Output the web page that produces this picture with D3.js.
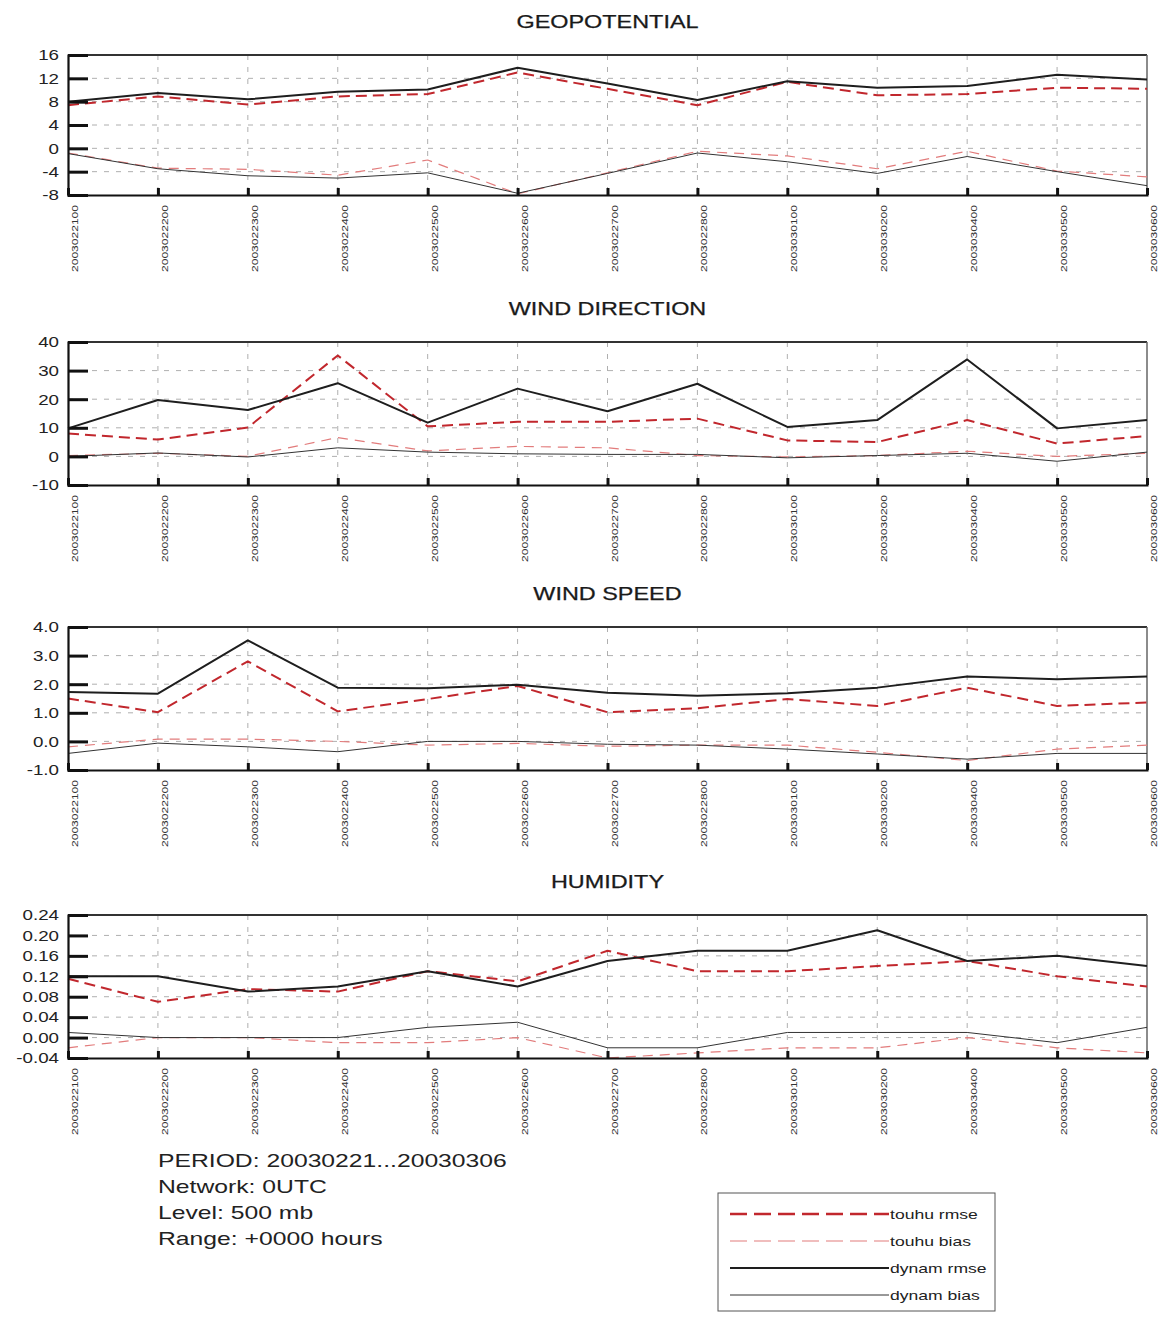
<!DOCTYPE html>
<html>
<head>
<meta charset="utf-8">
<script src="https://cdn.jsdelivr.net/npm/d3@7"></script>
<style>
  html, body { margin: 0; padding: 0; background: #fff; }
  svg { display: block; }
  text { font-family: "Liberation Sans", Arial, Helvetica, sans-serif; }
</style>
</head>
<body>
<svg id="chart" width="1160" height="1320"></svg>
<script>
// ---------------- data ----------------
const dates = ["2003022100","2003022200","2003022300","2003022400","2003022500","2003022600",
               "2003022700","2003022800","2003030100","2003030200","2003030400","2003030500","2003030600"];

const seriesNames = ["touhu rmse", "touhu bias", "dynam rmse", "dynam bias"];

const panelTitles = ["GEOPOTENTIAL", "WIND DIRECTION", "WIND SPEED", "HUMIDITY"];

// GEOPOTENTIAL
const geoTouhuRmse = [7.4, 8.9, 7.5, 8.9, 9.3, 13.0, 10.2, 7.4, 11.4, 9.1, 9.3, 10.4, 10.2];
const geoTouhuBias = [-0.8, -3.4, -3.6, -4.6, -2.0, -7.8, -4.2, -0.5, -1.3, -3.5, -0.5, -3.9, -4.9];
const geoDynamRmse = [8.0, 9.5, 8.4, 9.7, 10.1, 13.8, 11.1, 8.3, 11.5, 10.4, 10.7, 12.6, 11.8];
const geoDynamBias = [-0.9, -3.5, -4.7, -5.1, -4.2, -7.7, -4.3, -0.8, -2.3, -4.3, -1.4, -4.0, -6.4];
const geoTicks = [-8, -4, 0, 4, 8, 12, 16];

// WIND DIRECTION
const wdirTouhuRmse = [8.0, 5.9, 10.1, 35.3, 10.5, 12.1, 12.1, 13.2, 5.6, 5.0, 12.7, 4.5, 7.1];
const wdirTouhuBias = [0.3, 1.1, 0.0, 6.6, 1.9, 3.5, 3.0, 0.3, -0.2, 0.3, 1.8, 0.0, 1.1];
const wdirDynamRmse = [9.8, 19.7, 16.2, 25.6, 11.8, 23.7, 15.8, 25.4, 10.3, 12.7, 33.9, 9.8, 12.7];
const wdirDynamBias = [0.0, 1.2, -0.2, 3.0, 1.5, 0.9, 0.7, 0.7, -0.5, 0.3, 1.1, -1.7, 1.5];
const wdirTicks = [-10, 0, 10, 20, 30, 40];

// WIND SPEED
const wspdTouhuRmse = [1.50, 1.02, 2.80, 1.05, 1.48, 1.94, 1.02, 1.16, 1.48, 1.24, 1.88, 1.24, 1.36];
const wspdTouhuBias = [-0.19, 0.08, 0.08, 0.0, -0.13, -0.07, -0.17, -0.13, -0.13, -0.38, -0.67, -0.27, -0.13];
const wspdDynamRmse = [1.73, 1.67, 3.53, 1.88, 1.86, 1.98, 1.70, 1.60, 1.68, 1.88, 2.27, 2.17, 2.27];
const wspdDynamBias = [-0.42, -0.06, -0.19, -0.36, 0.0, 0.0, -0.10, -0.13, -0.27, -0.44, -0.62, -0.42, -0.42];
const wspdTicks = [-1, 0, 1, 2, 3, 4];

// HUMIDITY
const humTouhuRmse = [0.115, 0.07, 0.095, 0.09, 0.13, 0.11, 0.17, 0.13, 0.13, 0.14, 0.15, 0.12, 0.10];
const humTouhuBias = [-0.02, 0.0, 0.0, -0.01, -0.01, 0.0, -0.04, -0.03, -0.02, -0.02, 0.0, -0.02, -0.03];
const humDynamRmse = [0.12, 0.12, 0.09, 0.10, 0.13, 0.10, 0.15, 0.17, 0.17, 0.21, 0.15, 0.16, 0.14];
const humDynamBias = [0.01, 0.0, 0.0, 0.0, 0.02, 0.03, -0.02, -0.02, 0.01, 0.01, 0.01, -0.01, 0.02];
const humTicks = [-0.04, 0.0, 0.04, 0.08, 0.12, 0.16, 0.20, 0.24];

const infoLines = ["PERIOD: 20030221...20030306", "Network: 0UTC", "Level: 500 mb", "Range: +0000 hours"];

// ---------------- layout / style ----------------
const hyph = f => v => f(v).replace("\u2212", "-");

const panels = [
  { title: panelTitles[0], ticks: geoTicks,  fmt: hyph(d3.format("d")),   series: [geoTouhuRmse, geoTouhuBias, geoDynamRmse, geoDynamBias],     top: 55,  bottom: 195 },
  { title: panelTitles[1], ticks: wdirTicks, fmt: hyph(d3.format("d")),   series: [wdirTouhuRmse, wdirTouhuBias, wdirDynamRmse, wdirDynamBias], top: 342, bottom: 485 },
  { title: panelTitles[2], ticks: wspdTicks, fmt: hyph(d3.format(".1f")), series: [wspdTouhuRmse, wspdTouhuBias, wspdDynamRmse, wspdDynamBias], top: 627, bottom: 770 },
  { title: panelTitles[3], ticks: humTicks,  fmt: hyph(d3.format(".2f")), series: [humTouhuRmse, humTouhuBias, humDynamRmse, humDynamBias],     top: 915, bottom: 1058 }
];

const styles = [
  { color: "#c1272d", width: 2.0, dash: "11,6" },
  { color: "#e27c7c", width: 1.2, dash: "10,7" },
  { color: "#1e1e1e", width: 2.0, dash: null },
  { color: "#333333", width: 1.0, dash: null }
];

const plotLeft = 68, plotRight = 1147;
const HSTRETCH = 1.3;

const svg = d3.select("#chart");

function stretch(sel, factor) {
  sel.each(function () {
    const w = this.getComputedTextLength();
    d3.select(this).attr("textLength", w * factor).attr("lengthAdjust", "spacingAndGlyphs");
  });
  return sel;
}

const x = d3.scalePoint().domain(dates).range([plotLeft, plotRight]);

panels.forEach(p => {
  const y = d3.scaleLinear().domain([p.ticks[0], p.ticks[p.ticks.length - 1]]).range([p.bottom, p.top]);
  const g = svg.append("g");

  // title
  stretch(g.append("text")
    .attr("x", (plotLeft + plotRight) / 2)
    .attr("y", p.top - 27)
    .attr("text-anchor", "middle")
    .attr("font-size", 18)
    .attr("fill", "#1a1a1a")
    .attr("stroke", "#1a1a1a").attr("stroke-width", 0.25)
    .text(p.title), HSTRETCH);

  // grid (horizontal)
  g.append("g").selectAll("line")
    .data(p.ticks.slice(1, -1))
    .join("line")
    .attr("x1", plotLeft).attr("x2", plotRight)
    .attr("y1", d => y(d)).attr("y2", d => y(d))
    .attr("stroke", "#9a9a9a").attr("stroke-width", 0.8)
    .attr("stroke-dasharray", "5,7");

  // grid (vertical)
  g.append("g").selectAll("line")
    .data(dates.slice(1, -1))
    .join("line")
    .attr("x1", d => x(d)).attr("x2", d => x(d))
    .attr("y1", p.top).attr("y2", p.bottom)
    .attr("stroke", "#9a9a9a").attr("stroke-width", 0.8)
    .attr("stroke-dasharray", "5,7");

  // frame
  g.append("line").attr("x1", plotLeft).attr("x2", plotRight).attr("y1", p.top).attr("y2", p.top)
    .attr("stroke", "#333").attr("stroke-width", 1.8);
  g.append("line").attr("x1", plotRight).attr("x2", plotRight).attr("y1", p.top).attr("y2", p.bottom)
    .attr("stroke", "#666").attr("stroke-width", 1.5);

  // series lines
  const line = d3.line().x((d, i) => x(dates[i])).y(d => y(d));
  p.series.forEach((s, k) => {
    const st = styles[k];
    g.append("path")
      .datum(s)
      .attr("d", line)
      .attr("fill", "none")
      .attr("stroke", st.color)
      .attr("stroke-width", st.width)
      .attr("stroke-linejoin", "round")
      .attr("stroke-dasharray", st.dash);
  });

  // left axis
  const yAxis = d3.axisLeft(y).tickValues(p.ticks).tickFormat(p.fmt).tickSize(-20).tickPadding(9);
  const ya = g.append("g").attr("transform", `translate(${plotLeft},0)`).call(yAxis);
  ya.select(".domain").attr("stroke", "#111").attr("stroke-width", 2.2);
  ya.selectAll(".tick line").attr("stroke", "#111").attr("stroke-width", 3);
  ya.selectAll(".tick text").attr("font-size", 15).attr("fill", "#222")
    .attr("font-family", "Liberation Sans, Arial, sans-serif");
  stretch(ya.selectAll(".tick text"), 1.25);

  // bottom axis
  const xAxis = d3.axisBottom(x).tickSize(-7).tickFormat("");
  const xa = g.append("g").attr("transform", `translate(0,${p.bottom})`).call(xAxis);
  xa.select(".domain").attr("stroke", "#111").attr("stroke-width", 2);
  xa.selectAll(".tick line").attr("stroke", "#111").attr("stroke-width", 3);

  // rotated date labels
  g.append("g").selectAll("text")
    .data(dates)
    .join("text")
    .attr("transform", d => `translate(${x(d) + 10},${p.bottom + 10}) rotate(-90)`)
    .attr("text-anchor", "end")
    .attr("font-size", 9)
    .attr("fill", "#333")
    .attr("textLength", 67)
    .attr("lengthAdjust", "spacingAndGlyphs")
    .text(d => d);
});

// info text
svg.append("g").selectAll("text")
  .data(infoLines)
  .join("text")
  .attr("x", 158)
  .attr("y", (d, i) => 1167 + i * 26)
  .attr("font-size", 19)
  .attr("fill", "#222")
  .text(d => d)
  .call(sel => stretch(sel, HSTRETCH));

// legend
const lg = svg.append("g");
lg.append("rect").attr("x", 718).attr("y", 1193).attr("width", 277).attr("height", 118)
  .attr("fill", "none").attr("stroke", "#555").attr("stroke-width", 1);
seriesNames.forEach((name, k) => {
  const yy = 1214 + k * 27;
  const st = styles[k];
  lg.append("line").attr("x1", 730).attr("x2", 889).attr("y1", yy).attr("y2", yy)
    .attr("stroke", st.color).attr("stroke-width", st.width + (k === 0 ? 0.6 : 0))
    .attr("stroke-dasharray", k === 0 ? "17,7" : (k === 1 ? "17,7" : null));
  stretch(lg.append("text").attr("x", 890).attr("y", yy + 5)
    .attr("font-size", 13.5).attr("fill", "#222").text(name), HSTRETCH);
});
</script>
</body>
</html>
